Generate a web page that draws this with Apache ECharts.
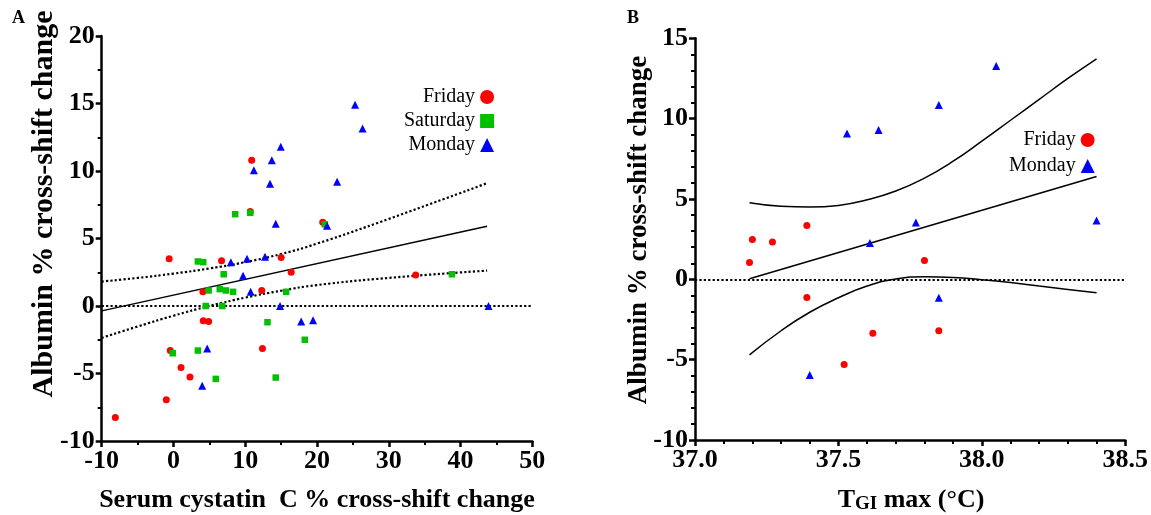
<!DOCTYPE html>
<html>
<head>
<meta charset="utf-8">
<script src="https://cdn.jsdelivr.net/npm/echarts@6/dist/echarts.min.js"></script>
<style>
  html, body { margin: 0; padding: 0; background: #fff; }
  #chart { width: 1151px; height: 515px; }
</style>
</head>
<body>
<div id="chart"></div>
<script>
// Panel A: serum cystatin C change (x) vs albumin change (y)
const fridayA = [
  [10.9, 10.8], [10.7, 7.0], [20.8, 6.2], [-0.6, 3.5], [6.7, 3.35], [15.0, 3.6],
  [16.4, 2.5], [4.1, 1.05], [12.3, 1.15], [4.15, -1.1], [4.9, -1.15], [-0.45, -3.3],
  [12.4, -3.15], [1.05, -4.55], [2.3, -5.25], [-1.0, -6.95], [-8.1, -8.25], [33.75, 2.3]
];
const saturdayA = [
  [8.6, 6.8], [10.7, 6.9], [21.1, 6.05], [3.4, 3.3], [4.15, 3.25], [7.0, 2.35],
  [4.9, 1.15], [6.45, 1.25], [7.3, 1.15], [8.3, 1.05], [15.7, 1.05], [4.5, 0],
  [6.8, 0], [13.1, -1.2], [18.3, -2.5], [-0.1, -3.5], [3.4, -3.3], [5.9, -5.4],
  [14.25, -5.3], [38.8, 2.35]
];
const mondayA = [
  [14.95, 11.8], [13.7, 10.8], [11.2, 10.05], [13.45, 9.05], [14.25, 6.1], [21.4, 5.95],
  [8.0, 3.25], [10.25, 3.5], [12.75, 3.65], [9.7, 2.25], [10.75, 1.05], [14.85, 0],
  [17.8, -1.15], [19.45, -1.05], [4.7, -3.15], [4.0, -5.9], [25.3, 14.9], [26.35, 13.15],
  [22.8, 9.2], [43.9, 0]
];
const fitA = [[-10, -0.36], [43.7, 5.9]];
const upperA = [[-10, 1.81], [-5, 2.08], [0, 2.4], [5, 2.78], [10, 3.25], [15, 3.85], [20, 4.62], [30, 6.45], [43.7, 9.1]];
const lowerA = [[-10, -2.36], [-5, -1.52], [0, -0.72], [5, 0.0], [10, 0.62], [15, 1.13], [20, 1.55], [30, 2.08], [43.7, 2.62]];

// Panel B: T_GI max (x) vs albumin change (y)
const fridayB = [
  [37.19, 1.05], [37.2, 2.48], [37.27, 2.32], [37.39, 3.35], [37.39, -1.13],
  [37.52, -5.3], [37.62, -3.35], [37.8, 1.17], [37.85, -3.2]
];
const mondayB = [
  [37.4, -5.95], [37.53, 9.07], [37.64, 9.3], [37.61, 2.26], [37.77, 3.54],
  [37.85, 10.85], [37.85, -1.15], [38.05, 13.28], [38.4, 3.66]
];
const fitB = [[37.19, 0.03], [38.4, 6.4]];
const upperB = [
  [37.19, 4.77], [37.3, 4.55], [37.4, 4.5], [37.5, 4.6], [37.6, 4.95], [37.7, 5.5], [37.8, 6.3],
  [37.9, 7.35], [38.0, 8.6], [38.1, 9.9], [38.2, 11.2], [38.3, 12.5], [38.4, 13.72]
];
const lowerB = [
  [37.19, -4.7], [37.3, -3.2], [37.4, -2.05], [37.5, -1.15], [37.6, -0.42], [37.7, 0.02], [37.8, 0.16],
  [37.9, 0.12], [38.0, -0.02], [38.1, -0.2], [38.2, -0.42], [38.3, -0.63], [38.4, -0.84]
];

const FONT = 'Liberation Serif';

function valueAxis(gridIndex, min, max, interval, minorSplit, fmt) {
  return {
    type: 'value',
    gridIndex: gridIndex,
    min: min,
    max: max,
    interval: interval,
    axisLine: { show: true, onZero: false, lineStyle: { color: '#000', width: 2.5 } },
    axisTick: { show: true, inside: false, length: 6, lineStyle: { color: '#000', width: 2.5 } },
    minorTick: { show: true, splitNumber: minorSplit, length: 4, lineStyle: { color: '#000', width: 2 } },
    splitLine: { show: false },
    axisLabel: {
      color: '#000', fontFamily: FONT, fontWeight: 'bold', fontSize: 26, margin: 7,
      showMinLabel: true, showMaxLabel: true, formatter: fmt
    }
  };
}

function scatter(name, data, xi, symbol, size, color) {
  return {
    name: name, type: 'scatter', xAxisIndex: xi, yAxisIndex: xi,
    data: data, symbol: symbol, symbolSize: size,
    itemStyle: { color: color, opacity: 1 }, z: 5
  };
}

function curve(name, data, xi, dotted, width) {
  return {
    name: name, type: 'line', xAxisIndex: xi, yAxisIndex: xi,
    data: data, symbol: 'none', smooth: 0.5, silent: true,
    lineStyle: { color: '#000', width: width, type: dotted ? 'dotted' : 'solid' }, z: 3
  };
}

function zeroLine() {
  return {
    silent: true, symbol: 'none', label: { show: false }, animation: false,
    lineStyle: { color: '#000', type: 'dotted', width: 2.2 },
    data: [{ yAxis: 0 }]
  };
}

const legendBase = {
  orient: 'vertical', align: 'right', itemWidth: 14, itemHeight: 14,
  selectedMode: false,
  textStyle: { color: '#000', fontFamily: FONT, fontSize: 20, lineHeight: 20 }
};

const chart = echarts.init(document.getElementById('chart'));

const option = {
  animation: false,
  backgroundColor: '#fff',
  grid: [
    { left: 101.7, right: 618.7, top: 36, bottom: 74 },
    { left: 695, right: 25, top: 38.3, bottom: 75 }
  ],
  xAxis: [
    valueAxis(0, -10, 50, 10, 2, v => String(v)),
    valueAxis(1, 37, 38.5, 0.5, 5, v => v.toFixed(1))
  ],
  yAxis: [
    valueAxis(0, -10, 20, 5, 2, v => String(v)),
    valueAxis(1, -10, 15, 5, 5, v => String(v))
  ],
  legend: [
    Object.assign({}, legendBase, { data: ['Friday', 'Saturday', 'Monday'], left: 399, top: 82, itemGap: 4 }),
    Object.assign({}, legendBase, { data: ['Friday', 'Monday'], left: 1004, top: 125, itemGap: 6 })
  ],
  graphic: [
    { type: 'text', x: 12, y: 9, style: { text: 'A', font: 'bold 18px ' + FONT, fill: '#000' } },
    { type: 'text', x: 627, y: 9, style: { text: 'B', font: 'bold 18px ' + FONT, fill: '#000' } },
    {
      type: 'text', x: 44, y: 204, rotation: Math.PI / 2,
      style: { text: 'Albumin % cross-shift change', font: 'bold 30px ' + FONT, fill: '#000', align: 'center', verticalAlign: 'middle' }
    },
    {
      type: 'text', x: 639, y: 230, rotation: Math.PI / 2,
      style: { text: 'Albumin % cross-shift change', font: 'bold 27px ' + FONT, fill: '#000', align: 'center', verticalAlign: 'middle' }
    },
    {
      type: 'text', x: 317, y: 500,
      style: { text: 'Serum cystatin  C % cross-shift change', font: 'bold 26px ' + FONT, fill: '#000', align: 'center', verticalAlign: 'middle' }
    },
    {
      type: 'text', x: 911, y: 500,
      style: {
        text: '{a|T}{s|GI}{a| max (°C)}', align: 'center', verticalAlign: 'middle', fill: '#000',
        rich: {
          a: { fontFamily: FONT, fontWeight: 'bold', fontSize: 26, fill: '#000' },
          s: { fontFamily: FONT, fontWeight: 'bold', fontSize: 19, fill: '#000', padding: [9, 0, 0, 0] }
        }
      }
    }
  ],
  series: [
    Object.assign(curve('fitA', fitA, 0, false, 1.5), { markLine: zeroLine() }),
    curve('upperA', upperA, 0, true, 2.2),
    curve('lowerA', lowerA, 0, true, 2.2),
    scatter('Friday', fridayA, 0, 'circle', 7, '#ff0000'),
    scatter('Saturday', saturdayA, 0, 'rect', 6.5, '#00c000'),
    scatter('Monday', mondayA, 0, 'triangle', 8, '#0000ff'),
    Object.assign(curve('fitB', fitB, 1, false, 1.5), { markLine: zeroLine() }),
    curve('upperB', upperB, 1, false, 1.5),
    curve('lowerB', lowerB, 1, false, 1.5),
    scatter('Friday', fridayB, 1, 'circle', 7, '#ff0000'),
    scatter('Monday', mondayB, 1, 'triangle', 8, '#0000ff')
  ]
};

chart.setOption(option);
</script>
</body>
</html>
